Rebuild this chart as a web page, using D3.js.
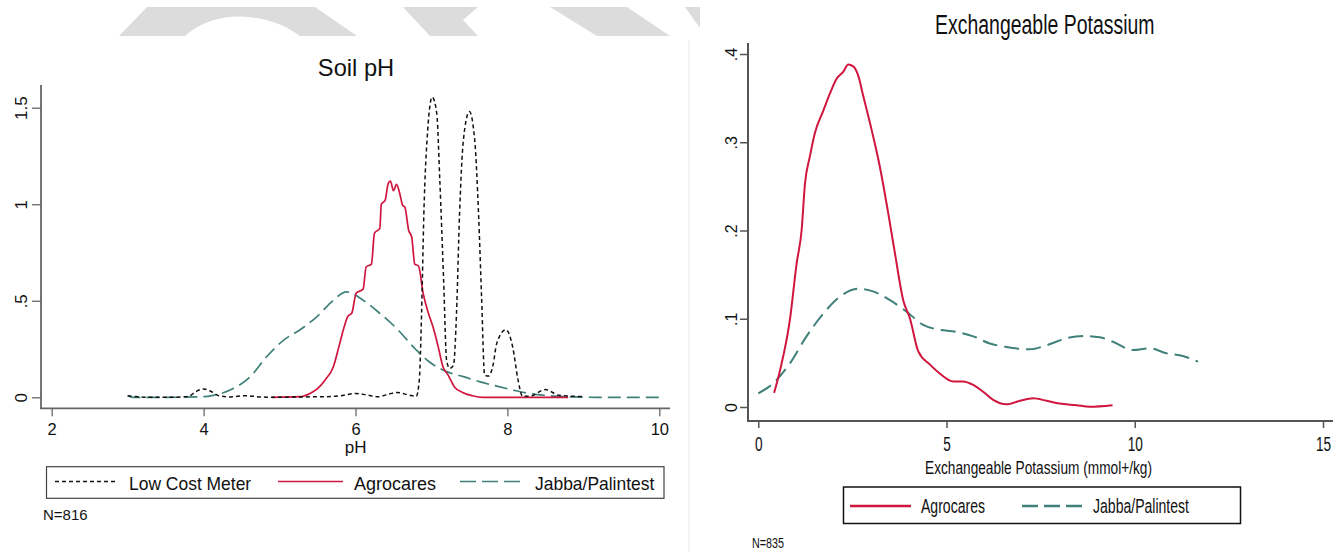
<!DOCTYPE html>
<html>
<head>
<meta charset="utf-8">
<script src="https://cdn.jsdelivr.net/npm/d3@7"></script>
<style>
body { margin: 0; background: #fff; }
text { font-family: "Liberation Sans", Arial, Helvetica, sans-serif; fill: #111; }
</style>
</head>
<body>
<svg id="chart" width="1342" height="552"></svg>
<script>
// ---- data: Soil pH (kernel densities) ----
var phTicks = [2, 4, 6, 8, 10];
var phDensTicks = [0, 0.5, 1, 1.5];
var phDensLabels = ["0", ".5", "1", "1.5"];

var phLowCost = [[3.0,0.008],[3.15,0.003],[3.3,0],[3.6,0],[3.8,0.005],[3.9,0.03],[4.0,0.043],[4.1,0.03],
  [4.2,0.008],[4.35,0.002],[4.55,0.008],[4.75,0.002],[5.0,0],[5.3,0.002],[5.6,0.003],[5.8,0.008],
  [6.0,0.02],[6.15,0.012],[6.3,0.003],[6.45,0.018],[6.55,0.025],[6.7,0.012],[6.8,0.005],[6.84,0.09],
  [6.87,0.435],[6.9,0.95],[6.95,1.38],[7.01,1.555],[7.07,1.47],[7.11,1.125],[7.16,0.61],[7.2,0.19],
  [7.24,0.15],[7.29,0.165],[7.33,0.435],[7.37,0.95],[7.42,1.33],[7.5,1.48],[7.57,1.33],[7.62,0.95],
  [7.66,0.52],[7.7,0.115],[7.75,0.11],[7.81,0.165],[7.86,0.28],[7.98,0.35],[8.07,0.26],[8.14,0.09],
  [8.2,0.005],[8.3,0.006],[8.5,0.04],[8.68,0.01],[8.9,0.005],[8.98,0.004]];

var phAgrocares = [[4.9,0],[5.27,0.003],[5.4,0.02],[5.5,0.045],[5.6,0.09],[5.71,0.16],[5.78,0.26],
  [5.84,0.35],[5.9,0.42],[5.95,0.435],[6.01,0.54],[6.1,0.56],[6.14,0.675],[6.21,0.69],[6.25,0.85],
  [6.32,0.875],[6.34,1.0],[6.39,1.02],[6.43,1.107],[6.46,1.12],[6.5,1.07],[6.54,1.103],[6.58,1.06],
  [6.62,0.995],[6.65,0.985],[6.7,0.865],[6.74,0.83],[6.78,0.69],[6.83,0.68],[6.89,0.54],[6.96,0.435],
  [7.02,0.365],[7.09,0.26],[7.15,0.16],[7.22,0.115],[7.3,0.055],[7.41,0.025],[7.54,0.008],[7.67,0],[8.8,0]];

var phJabba = [[3.0,0.008],[3.07,0],[3.5,0],[4.0,0.003],[4.13,0.01],[4.39,0.045],[4.61,0.105],
  [4.83,0.21],[5.05,0.295],[5.27,0.35],[5.49,0.417],[5.71,0.503],[5.88,0.546],[6.1,0.503],[6.32,0.435],
  [6.54,0.357],[6.8,0.245],[6.97,0.184],[7.2,0.133],[7.42,0.107],[7.64,0.08],[7.86,0.058],[8.07,0.038],
  [8.29,0.02],[8.51,0.01],[8.75,0.003],[9.2,0],[10,0]];

// ---- data: Exchangeable Potassium ----
var kTicks = [0, 5, 10, 15];
var kDensTicks = [0, 0.1, 0.2, 0.3, 0.4];
var kDensLabels = ["0", ".1", ".2", ".3", ".4"];

var kAgrocares = [[0.42,0.016],[0.58,0.042],[0.84,0.099],[1.02,0.163],[1.15,0.2],[1.24,0.253],
  [1.37,0.284],[1.5,0.31],[1.73,0.336],[1.9,0.355],[2.08,0.372],[2.26,0.38],[2.39,0.388],[2.52,0.386],
  [2.65,0.376],[2.79,0.352],[3.01,0.314],[3.23,0.272],[3.45,0.22],[3.63,0.174],[3.85,0.121],[4.03,0.1],
  [4.25,0.063],[4.56,0.048],[4.82,0.038],[5.18,0.029],[5.44,0.029],[5.71,0.025],[5.98,0.017],[6.24,0.008],
  [6.59,0.003],[6.95,0.007],[7.3,0.0098],[7.66,0.007],[8.0,0.004],[8.45,0.002],[8.8,0.0003],[9.41,0.002]];

var kJabba = [[0,0.0155],[0.4,0.027],[0.84,0.0495],[1.28,0.08],[1.73,0.106],[2.17,0.125],[2.65,0.134],
  [3.05,0.131],[3.5,0.121],[3.94,0.108],[4.38,0.093],[4.74,0.088],[5.27,0.085],[5.71,0.08],[6.15,0.072],
  [6.59,0.068],[7.21,0.0654],[7.66,0.07],[8.19,0.078],[8.67,0.0805],[9.07,0.079],[9.42,0.074],
  [9.95,0.0646],[10.4,0.0665],[10.84,0.0608],[11.28,0.0578],[11.68,0.0514]];

var RED = "#d0163f";
var TEAL = "#3f807a";
var AXIS = "#666";

var svg = d3.select("#chart");

// grey watermark band across the top of the left panel
var watermark = [
  "M119,36 L147,7 L315,7 L357,36 L300,36 C285,25 265,17 240,16.5 C220,16.5 200,22 185,36 Z",
  "M403,7 L478,7 L463,20 L478,36 L430,36 Z",
  "M550,7 L627,7 L670,36 L597,36 Z",
  "M685,7 L700,7 L700,28 Z"
];
svg.selectAll("path.wm").data(watermark).enter().append("path")
  .attr("class", "wm").attr("d", d => d).attr("fill", "#dcdcdc");
svg.append("line").attr("x1", 689).attr("x2", 689).attr("y1", 40).attr("y2", 552)
  .attr("stroke", "#efefef").attr("stroke-width", 1.5);

// text helper, sx squeezes glyphs horizontally
function label(g, txt, x, y, size, sx, anchor) {
  return g.append("text").text(txt)
    .attr("transform", "translate(" + x + "," + y + ") scale(" + sx + ",1)")
    .attr("font-size", size).attr("text-anchor", anchor || "start");
}

function curve(xs, ys) {
  return d3.line().x(d => xs(d[0])).y(d => ys(d[1])).curve(d3.curveMonotoneX);
}

// ================= Soil pH =================
var xL = d3.scaleLinear().domain([2, 10]).range([51.7, 659.3]);
var yL = d3.scaleLinear().domain([0, 1.5]).range([397.3, 107.7]);
var left = svg.append("g");

var lineL = curve(xL, yL);
left.append("path").datum(phJabba).attr("d", lineL).attr("fill", "none")
  .attr("stroke", TEAL).attr("stroke-width", 1.7).attr("stroke-dasharray", "13,6");
left.append("path").datum(phAgrocares).attr("d", lineL).attr("fill", "none")
  .attr("stroke", RED).attr("stroke-width", 1.7);
left.append("path").datum(phLowCost).attr("d", lineL).attr("fill", "none")
  .attr("stroke", "#111").attr("stroke-width", 1.5).attr("stroke-dasharray", "4,3");

var axL = left.append("g").attr("transform", "translate(0,408.3)")
  .call(d3.axisBottom(xL).tickValues(phTicks).tickSize(8).tickFormat(d3.format("d")));
axL.select(".domain").remove();
axL.selectAll("line").attr("stroke", AXIS).attr("stroke-width", 1.3);
axL.selectAll("text").attr("y", 27).attr("dy", 0).attr("font-size", 16.5).attr("fill", "#111");
left.append("line").attr("x1", 40).attr("x2", 670).attr("y1", 408.3).attr("y2", 408.3)
  .attr("stroke", AXIS).attr("stroke-width", 1.8);

var ayL = left.append("g").attr("transform", "translate(41,0)")
  .call(d3.axisLeft(yL).tickValues(phDensTicks).tickSize(9)
    .tickFormat((d, i) => phDensLabels[i]));
ayL.select(".domain").remove();
ayL.selectAll("line").attr("stroke", AXIS).attr("stroke-width", 1.3);
ayL.selectAll("text").attr("x", null).attr("dy", 0).attr("text-anchor", "middle")
  .attr("transform", "translate(-14,0) rotate(-90)").attr("font-size", 17).attr("fill", "#111");
left.append("line").attr("x1", 41).attr("x2", 41).attr("y1", 85).attr("y2", 409)
  .attr("stroke", AXIS).attr("stroke-width", 1.8);

label(left, "Soil pH", 356, 76, 23, 1.03, "middle");
label(left, "pH", 355.7, 452.5, 17, 1, "middle");

left.append("rect").attr("x", 46.5).attr("y", 466.7).attr("width", 617.5).attr("height", 31.6)
  .attr("fill", "none").attr("stroke", "#444").attr("stroke-width", 1.2);
var legL = [
  { name: "Low Cost Meter", x1: 55, x2: 118, tx: 129, color: "#111", dash: "4,3", sx: 0.97 },
  { name: "Agrocares", x1: 278, x2: 343, tx: 354, color: RED, dash: null, sx: 1 },
  { name: "Jabba/Palintest", x1: 460, x2: 524, tx: 535, color: TEAL, dash: "16,6", sx: 0.97 }
];
legL.forEach(function(d) {
  left.append("line").attr("x1", d.x1).attr("x2", d.x2).attr("y1", 481.5).attr("y2", 481.5)
    .attr("stroke", d.color).attr("stroke-width", 1.5).attr("stroke-dasharray", d.dash);
  label(left, d.name, d.tx, 490, 18, d.sx);
});
label(left, "N=816", 43, 520, 15, 1);

// ================= Exchangeable Potassium =================
var xR = d3.scaleLinear().domain([0, 15]).range([758.3, 1323]);
var yR = d3.scaleLinear().domain([0, 0.4]).range([407, 54]);
var right = svg.append("g");

var lineR = curve(xR, yR);
right.append("path").datum(kJabba).attr("d", lineR).attr("fill", "none")
  .attr("stroke", TEAL).attr("stroke-width", 2).attr("stroke-dasharray", "15,7");
right.append("path").datum(kAgrocares).attr("d", lineR).attr("fill", "none")
  .attr("stroke", RED).attr("stroke-width", 2);

var axR = right.append("g").attr("transform", "translate(0,421)")
  .call(d3.axisBottom(xR).tickValues(kTicks).tickSize(7).tickFormat(d3.format("d")));
axR.select(".domain").remove();
axR.selectAll("line").attr("stroke", "#555").attr("stroke-width", 1.5);
axR.selectAll("text").attr("y", 30.5).attr("dy", 0).attr("font-size", 19.5)
  .attr("transform", "scale(0.7,1)").attr("fill", "#111");
right.append("line").attr("x1", 747).attr("x2", 1333).attr("y1", 421).attr("y2", 421)
  .attr("stroke", "#555").attr("stroke-width", 2);

var ayR = right.append("g").attr("transform", "translate(748,0)")
  .call(d3.axisLeft(yR).tickValues(kDensTicks).tickSize(8)
    .tickFormat((d, i) => kDensLabels[i]));
ayR.select(".domain").remove();
ayR.selectAll("line").attr("stroke", "#555").attr("stroke-width", 1.5);
ayR.selectAll("text").attr("x", null).attr("dy", 0).attr("text-anchor", "middle")
  .attr("transform", "translate(-11,0) rotate(-90)").attr("font-size", 16).attr("fill", "#111");
right.append("line").attr("x1", 748).attr("x2", 748).attr("y1", 43).attr("y2", 422)
  .attr("stroke", "#555").attr("stroke-width", 2);

label(right, "Exchangeable Potassium", 935, 33.5, 28, 0.695);
label(right, "Exchangeable Potassium (mmol+/kg)", 925, 473.5, 18.5, 0.74);

right.append("rect").attr("x", 843.5).attr("y", 487).attr("width", 397).attr("height", 36.5)
  .attr("fill", "none").attr("stroke", "#111").attr("stroke-width", 1.5);
var legR = [
  { name: "Agrocares", x1: 850, x2: 911, tx: 921, color: RED, dash: null },
  { name: "Jabba/Palintest", x1: 1022, x2: 1084, tx: 1093, color: TEAL, dash: "16,6" }
];
legR.forEach(function(d) {
  right.append("line").attr("x1", d.x1).attr("x2", d.x2).attr("y1", 506).attr("y2", 506)
    .attr("stroke", d.color).attr("stroke-width", 2.5).attr("stroke-dasharray", d.dash);
  label(right, d.name, d.tx, 513, 19.5, 0.72);
});
label(right, "N=835", 752, 548, 14, 0.77);
</script>
</body>
</html>
